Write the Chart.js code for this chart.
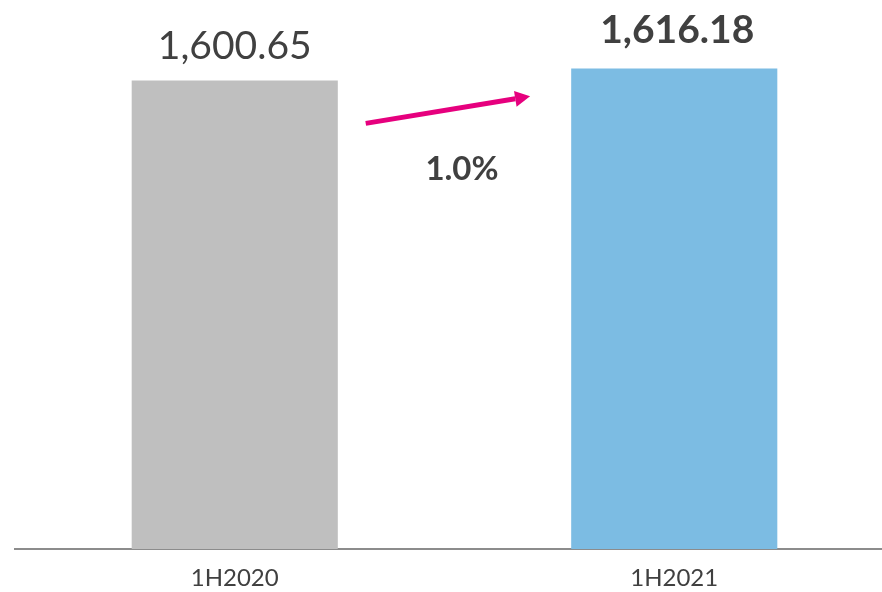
<!DOCTYPE html>
<html>
<head>
<meta charset="utf-8">
<script src="https://cdn.jsdelivr.net/npm/chart.js@4.4.1/dist/chart.umd.min.js"></script>
<style>
  html, body { margin: 0; padding: 0; background: #fff; overflow: hidden; }
  #wrap { width: 894px; height: 592px; }
</style>
</head>
<body>
<div id="wrap"><canvas id="barChart" width="894" height="592"></canvas></div>
<script>
// datos del grafico
const periodos = ['1H2020', '1H2021'];
const valores = [1600.65, 1616.18];
const coloresBarras = ['#bfbfbf', '#7cbce3'];
const etiquetasValor = ['1,600.65', '1,616.18'];

// crecimiento entre periodos
const crecimiento = ((valores[1] / valores[0]) - 1) * 100;
const textoCrecimiento = crecimiento.toFixed(1) + '%';

const colorTexto = '#404040';
const colorFlecha = '#e6007e';

// etiquetas encima de las barras
const valueLabels = {
    id: 'valueLabels',
    afterDatasetsDraw(chart) {
        const ctx = chart.ctx;
        const meta = chart.getDatasetMeta(0);
        ctx.save();
        ctx.fillStyle = colorTexto;
        ctx.textAlign = 'center';
        ctx.textBaseline = 'alphabetic';
        meta.data.forEach((bar, i) => {
            const ultimo = i === meta.data.length - 1;
            ctx.font = (ultimo ? 'bold ' : '') + '39px Lato';
            ctx.fillText(etiquetasValor[i], bar.x + (ultimo ? 3 : 0), bar.y - (ultimo ? 25 : 21));
        });
        ctx.restore();
    }
};

// flecha de crecimiento y porcentaje
const growthArrow = {
    id: 'growthArrow',
    afterDatasetsDraw(chart) {
        const ctx = chart.ctx;
        const x = chart.scales.x;
        const y = chart.scales.y;
        const x0 = x.getPixelForValue(0.298);
        const y0 = y.getPixelForValue(1545.7);
        const x1 = x.getPixelForValue(0.672);
        const y1 = y.getPixelForValue(1580.3);
        const ang = Math.atan2(y1 - y0, x1 - x0);
        const head = 15;
        const half = 8;

        ctx.save();
        ctx.strokeStyle = colorFlecha;
        ctx.fillStyle = colorFlecha;
        ctx.lineWidth = 5;
        ctx.beginPath();
        ctx.moveTo(x0, y0);
        ctx.lineTo(x1 - head * Math.cos(ang), y1 - head * Math.sin(ang));
        ctx.stroke();

        ctx.beginPath();
        ctx.moveTo(x1, y1);
        ctx.lineTo(x1 - head * Math.cos(ang) - half * Math.sin(ang), y1 - head * Math.sin(ang) + half * Math.cos(ang));
        ctx.lineTo(x1 - head * Math.cos(ang) + half * Math.sin(ang), y1 - head * Math.sin(ang) - half * Math.cos(ang));
        ctx.closePath();
        ctx.fill();

        ctx.fillStyle = colorTexto;
        ctx.font = 'bold 33px Lato';
        ctx.textAlign = 'center';
        ctx.textBaseline = 'middle';
        ctx.fillText(textoCrecimiento, x.getPixelForValue(0.517), y.getPixelForValue(1486.8));
        ctx.restore();
    }
};

new Chart(document.getElementById('barChart'), {
    type: 'bar',
    data: {
        labels: periodos,
        datasets: [{
            data: valores,
            backgroundColor: coloresBarras,
            borderWidth: 0,
            categoryPercentage: 1,
            barPercentage: 0.469
        }]
    },
    options: {
        responsive: false,
        animation: false,
        layout: { padding: { top: 3, left: 15, right: 0, bottom: 0 } },
        plugins: {
            legend: { display: false },
            tooltip: { enabled: false }
        },
        scales: {
            y: {
                display: false,
                min: 1000,
                max: 1700
            },
            x: {
                grid: { display: false, drawTicks: false },
                border: { display: true, color: '#8c8c8c', width: 2 },
                ticks: {
                    color: colorTexto,
                    font: { family: 'Lato', size: 24 },
                    padding: 15
                },
                afterFit(scale) {
                    scale.height = 43;
                }
            }
        }
    },
    plugins: [valueLabels, growthArrow]
});
</script>
</body>
</html>
